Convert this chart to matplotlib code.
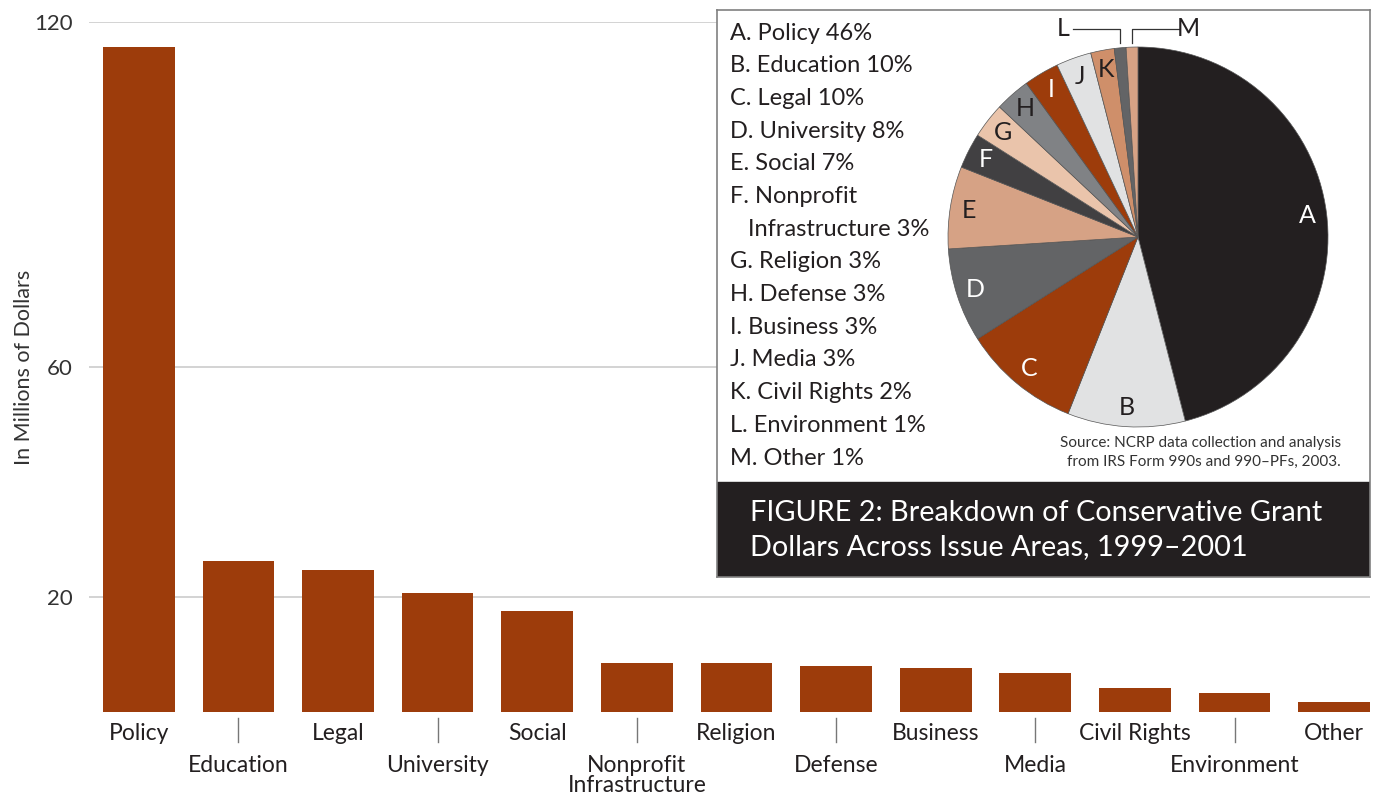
import matplotlib
matplotlib.use("Agg")
import matplotlib.pyplot as plt
import matplotlib.transforms as mtransforms
import numpy as np

plt.rcParams['font.family'] = ['Lato', 'DejaVu Sans']

# ---- data ----
categories = ["Policy", "Education", "Legal", "University", "Social",
              "Nonprofit\nInfrastructure", "Religion", "Defense", "Business",
              "Media", "Civil Rights", "Environment", "Other"]
grant_millions = [115.7, 26.3, 24.7, 20.7, 17.6, 8.5, 8.5, 8.0, 7.65,
                  6.8, 4.2, 3.3, 1.7]
y_ticks = [20, 60, 120]

pie_letters = list("ABCDEFGHIJKLM")
pie_names = ["Policy", "Education", "Legal", "University", "Social",
             "Nonprofit\n   Infrastructure", "Religion", "Defense", "Business",
             "Media", "Civil Rights", "Environment", "Other"]
pie_shares = [46, 10, 10, 8, 7, 3, 3, 3, 3, 3, 2, 1, 1]
pie_colors = ["#231f20", "#e1e2e3", "#9d3c0b", "#636466", "#d6a285",
              "#414042", "#eac4ab", "#808285", "#9d3c0b", "#e1e2e3",
              "#cf8f6a", "#636466", "#d6a285"]
letter_colors = ["white", "#231f20", "white", "white", "#231f20", "white",
                 "#231f20", "#231f20", "white", "#231f20", "#231f20",
                 "#231f20", "#231f20"]

title_text = "FIGURE 2: Breakdown of Conservative Grant\nDollars Across Issue Areas, 1999\u20132001"
source_text = "Source: NCRP data collection and analysis\nfrom IRS Form 990s and 990\u2013PFs, 2003."

BAR = "#9d3c0b"
INK = "#231f20"
W, H = 1376, 795


def fx(px):
    return px / W


def fy(py):
    return 1 - py / H


fig = plt.figure(figsize=(W / 100, H / 100), dpi=100)
fig.patch.set_facecolor("white")

# ---- bar chart ----
ax_h = 712 - 22
ax = fig.add_axes([fx(89), fy(712), fx(1370) - fx(89), fy(22) - fy(712)])
x = np.arange(len(categories))
ax.bar(x, grant_millions, width=0.72, color=BAR, zorder=2)
ax.set_xlim(-0.5, len(categories) - 1 + 0.36)
ax.set_ylim(0, 120)
ax.set_yticks(y_ticks)
ax.set_yticklabels([str(t) for t in y_ticks], fontsize=16, color="#333333")
ax.tick_params(axis="y", length=0, pad=12)
ax.set_xticks([])
ax.yaxis.grid(True, color="#cccccc", linewidth=1.2, zorder=0)
for s in ax.spines.values():
    s.set_visible(False)
ax.set_ylabel("In Millions of Dollars", fontsize=15.5, color="#333333")
ax.yaxis.set_label_coords(-0.043, 0.5)


def below(px):
    """Axes-fraction y for a point px pixels under the baseline."""
    return -px / ax_h


# alternating category labels under the bars
tr = mtransforms.blended_transform_factory(ax.transData, ax.transAxes)
for i, name in enumerate(categories):
    if i % 2 == 0:
        ax.text(i, below(22), name, transform=tr, ha="center", va="center",
                fontsize=16.5, color=INK)
    else:
        for k, line in enumerate(name.split("\n")):
            ax.text(i, below(54 + 20 * k), line, transform=tr, ha="center",
                    va="center", fontsize=16.5, color=INK)
        ax.plot([i, i], [below(6), below(30)], transform=tr, color="#777777",
                linewidth=1, clip_on=False)

# ---- inset panel ----
box = fig.add_axes([fx(717), fy(577), fx(1370) - fx(717), fy(10) - fy(577)])
box.set_xlim(0, 1)
box.set_ylim(0, 1)
box.set_xticks([])
box.set_yticks([])
box.set_facecolor("white")
for s in box.spines.values():
    s.set_color("#808080")
    s.set_linewidth(1.2)
box.axhspan(0, (577 - 482) / 567, color=INK, zorder=1)
box.set_zorder(3)

fig.text(fx(750), fy(530), title_text, ha="left", va="center", fontsize=20.8,
         color="white", linespacing=1.42, zorder=5)
fig.text(fx(1341), fy(452), source_text, ha="right", va="center", fontsize=11,
         color="#333333", linespacing=1.45, zorder=5)

# legend list
row = 0
for letter, name, share in zip(pie_letters, pie_names, pie_shares):
    entry = f"{letter}. {name} {share}%"
    for line in entry.split("\n"):
        fig.text(fx(730), fy(33 + 32.7 * row), line, ha="left", va="center",
                 fontsize=17, color=INK, zorder=5)
        row += 1

# ---- pie ----
pax = fig.add_axes([fx(948), fy(427), fx(1328) - fx(948), fy(47) - fy(427)])
pax.set_zorder(4)
wedges, texts = pax.pie(pie_shares, colors=pie_colors, startangle=90,
                        counterclock=False,
                        labels=[l if s >= 2 else "" for l, s in zip(pie_letters, pie_shares)],
                        labeldistance=0.9,
                        wedgeprops=dict(edgecolor="#555555", linewidth=0.5),
                        textprops=dict(fontsize=18))
for t, c in zip(texts, letter_colors):
    t.set_color(c)
    t.set_ha("center")
    t.set_va("center")
pax.set_xlim(-1, 1)
pax.set_ylim(-1, 1)
pax.set_aspect("equal")

# leader lines for the two thinnest wedges
for idx, side in ((11, -1), (12, 1)):
    w = wedges[idx]
    mid = np.deg2rad((w.theta1 + w.theta2) / 2)
    x0 = np.cos(mid)
    y0 = 1.02
    yh = 1.095
    x1 = x0 + side * (0.25 if side < 0 else 0.245)
    pax.plot([x0, x0, x1], [y0, yh, yh], color="#333333", linewidth=0.9,
             clip_on=False)
    pax.text(x1 + side * 0.05, yh + 0.005, pie_letters[idx],
             ha="center", va="center", fontsize=18, color=INK, clip_on=False)

fig.savefig("out.png", dpi=100)
